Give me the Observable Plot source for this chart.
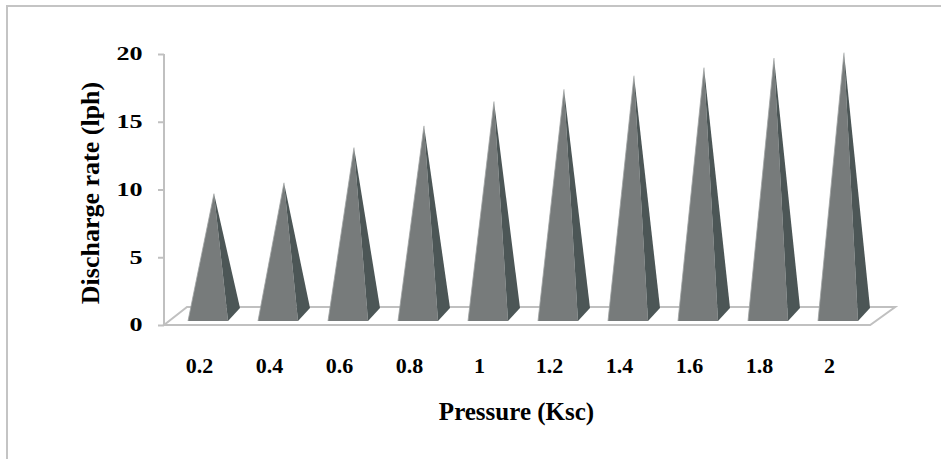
<!DOCTYPE html>
<html>
<head>
<meta charset="utf-8">
<script src="https://cdn.jsdelivr.net/npm/d3@7"></script>
<script src="https://cdn.jsdelivr.net/npm/@observablehq/plot@0.6"></script>
<style>
  html, body { margin: 0; padding: 0; background: #fff; }
  #wrap { position: relative; width: 941px; height: 459px; }
  #border { position: absolute; left: 6px; top: 5px; right: 0; bottom: 0;
            border-left: 2px solid #c4c4c4; border-top: 2px solid #c4c4c4; pointer-events: none; }
</style>
</head>
<body>
<div id="wrap"><div id="border"></div></div>
<script>
const pressures = ["0.2", "0.4", "0.6", "0.8", "1", "1.2", "1.4", "1.6", "1.8", "2"];
const discharge = [9.7, 10.5, 13.1, 14.7, 16.5, 17.4, 18.4, 19.0, 19.7, 20.1];
const yTicks = [0, 5, 10, 15, 20];
const xTitle = "Pressure (Ksc)";
const yTitle = "Discharge rate (lph)";

const data = pressures.map((p, i) => ({pressure: p, rate: discharge[i]}));

const FRONT = "#777b7b";
const SIDE = "#4c5656";
const LINE = "#c0c0c0";
const font = "'Liberation Serif', 'Times New Roman', serif";

function pyramids(index, scales, values, dimensions) {
  const x = scales.x, y = scales.y;
  const bw = typeof x.bandwidth === "function" ? x.bandwidth() : x.bandwidth;
  const r = x.range();
  const y0 = y(0);
  const g = d3.create("svg:g");
  const left = dimensions.marginLeft;
  const right = r[1] - 5;
  // floor
  g.append("path")
    .attr("d", `M${left},${y0}L${right},${y0}L${right + 25},${y0 - 18}L${left + 23},${y0 - 18}Z`)
    .attr("fill", "none").attr("stroke", LINE).attr("stroke-width", 2);
  // y axis line
  g.append("line")
    .attr("x1", left).attr("x2", left)
    .attr("y1", y(yTicks[yTicks.length - 1])).attr("y2", y0)
    .attr("stroke", LINE).attr("stroke-width", 2);
  for (const i of index) {
    const d = data[i];
    const x0 = x(d.pressure);
    const yb = y0 - 4;
    const ax = x0 + bw / 2 + 6, ay = y(d.rate);
    g.append("path")
      .attr("d", `M${x0},${yb}L${x0 + bw},${yb}L${ax},${ay}Z`)
      .attr("fill", FRONT);
    g.append("path")
      .attr("d", `M${x0 + bw},${yb}L${x0 + bw + 12},${yb - 13}L${ax},${ay}Z`)
      .attr("fill", SIDE);
    g.append("path")
      .attr("d", `M${x0},${yb}L${ax},${ay}`)
      .attr("stroke", "#9ea2a2").attr("stroke-width", 0.8).attr("fill", "none");
  }
  return g.node();
}

const chart = Plot.plot({
  width: 941,
  height: 459,
  marginTop: 54,
  marginBottom: 134,
  marginLeft: 164,
  marginRight: 73,
  style: {fontFamily: font, fontWeight: "bold", fontSize: "18px", color: "#000", background: "transparent"},
  x: {type: "band", domain: pressures, range: [170.8, 875.2], paddingInner: 0.432, paddingOuter: 0.216, label: null},
  y: {domain: [0, 20], label: null},
  marks: [
    Plot.barY(data, {x: "pressure", y: "rate", render: pyramids}),
    Plot.axisY({ticks: yTicks, tickSize: 6, tickPadding: 16, stroke: LINE, strokeWidth: 2, fill: "#000", fontSize: 18, fontWeight: "bold", label: null}),
    Plot.axisX({tickSize: 0, tickPadding: 32, dx: -9, fill: "#000", fontSize: 22, fontWeight: "bold", label: null}),
    Plot.text([xTitle], {frameAnchor: "bottom", dy: 86, textAnchor: "middle", lineAnchor: "middle", fontSize: 25, fontWeight: "bold", fill: "#000"}),
    Plot.text([yTitle], {frameAnchor: "left", dx: -74, dy: 3, rotate: -90, textAnchor: "middle", lineAnchor: "middle", fontSize: 26, fontWeight: "bold", fill: "#000"})
  ]
});

// widen the y tick labels horizontally, as in the reference
d3.select(chart).selectAll('g[aria-label="y-axis tick label"] text').each(function() {
  const t = this.getAttribute("transform");
  if (t) {
    this.setAttribute("transform", t + " scale(1.45,1)");
  } else {
    const x = this.getAttribute("x") || 0, y = this.getAttribute("y") || 0;
    this.removeAttribute("x"); this.removeAttribute("y");
    this.setAttribute("transform", `translate(${x},${y}) scale(1.45,1)`);
  }
});

document.getElementById("wrap").prepend(chart);
</script>
</body>
</html>
